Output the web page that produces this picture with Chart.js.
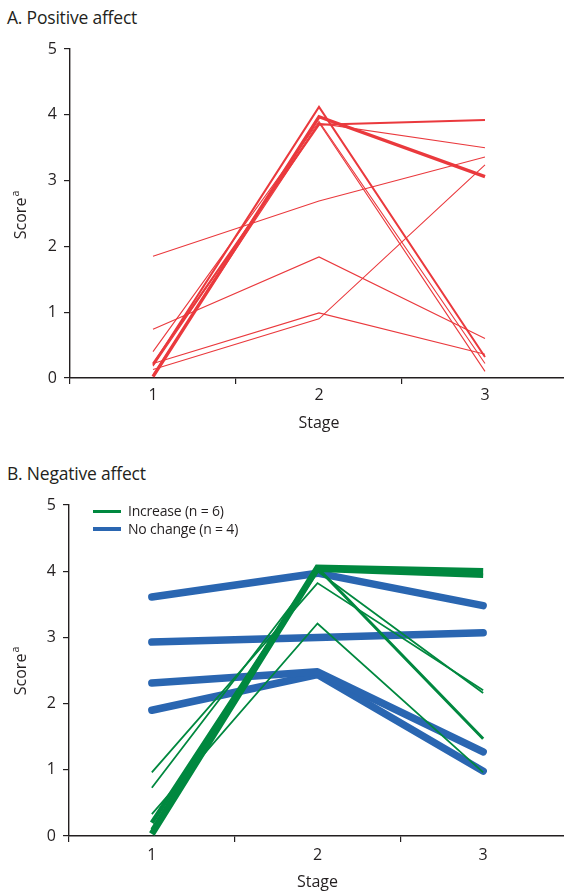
<!DOCTYPE html>
<html lang="en">
<head>
<meta charset="UTF-8">
<title>Positive and negative affect by stage</title>
<script src="https://cdn.jsdelivr.net/npm/chart.js"></script>
<style>
  body { margin: 0; background: #fff; width: 564px; height: 893px; position: relative; overflow: hidden;
         font-family: 'Open Sans', sans-serif; color: #231f20; }
  .panel-title { position: absolute; left: 7px; font-size: 17.5px; line-height: 22px; letter-spacing: -0.2px; }
  canvas { position: absolute; left: 0; }
  #legend { position: absolute; left: 93px; top: 502px; font-size: 14px; line-height: 18px; letter-spacing: -0.2px; }
  #legend div { display: flex; align-items: center; }
  #legend span.swatch { display: inline-block; width: 28px; height: 3px; margin-right: 7px; }
</style>
</head>
<body>
<div class="panel-title" style="top:6px">A. Positive affect</div>
<canvas id="chartA" width="570" height="440" style="top:0"></canvas>

<div class="panel-title" style="top:462px">B. Negative affect</div>
<canvas id="chartB" width="570" height="443" style="top:450px"></canvas>
<div id="legend">
  <div><span class="swatch" style="background:#00883f"></span>Increase (n = 6)</div>
  <div><span class="swatch" style="background:#2a66b1;height:4px"></span>No change (n = 4)</div>
</div>

<script>
// stages on the x axis and the ticks drawn along it
const stages = [1, 2, 3];
const stageLabels = ['1', '2', '3'];
const xTickValues = [0.5, 1, 1.5, 2, 2.5, 3, 3.5];
const scoreTicks = [0, 1, 2, 3, 4, 5];

// A. Positive affect, one array per participant (stage 1, 2, 3)
const posP1 = [1.85, 2.69, 3.36];
const posP2 = [0.74, 1.84, 0.60];
const posP3 = [0.22, 0.99, 0.36];
const posP4 = [0.13, 0.90, 3.24];
const posP5 = [0.02, 3.97, 3.06];
const posP6 = [0.20, 4.12, 0.32];
const posP7 = [0.40, 3.90, 0.22];
const posP8 = [0.18, 3.88, 0.10];
const posP9 = [0.22, 3.85, 3.92];
const posP10 = [0.05, 3.87, 3.50];
const positiveSeries = [posP1, posP2, posP3, posP4, posP5, posP6, posP7, posP8, posP9, posP10];

// B. Negative affect, "Increase" group
const incP1 = [0.03, 4.05, 4.00];
const incP2 = [0.20, 4.02, 3.93];
const incP3 = [0.96, 3.82, 2.20];
const incP4 = [0.73, 4.00, 2.16];
const incP5 = [0.10, 4.05, 1.47];
const incP6 = [0.33, 3.21, 0.96];
const increaseSeries = [incP1, incP2, incP3, incP4, incP5, incP6];

// B. Negative affect, "No change" group
const ncP1 = [3.61, 3.97, 3.48];
const ncP2 = [2.93, 3.00, 3.07];
const ncP3 = [2.31, 2.48, 1.27];
const ncP4 = [1.90, 2.44, 0.98];
const noChangeSeries = [ncP1, ncP2, ncP3, ncP4];

// line weights (style only)
const posWidths = [1.1, 1.1, 1.1, 1.1, 3.4, 2, 1.1, 1.1, 2, 1.1];
const incWidths = [6.5, 4.5, 1.8, 1.8, 3, 1.8];
const ncWidth = 7.5;

const RED = '#ea393d';
const GREEN = '#00883f';
const BLUE = '#2a66b1';
const INK = '#231f20';
const FONT = "'Open Sans', sans-serif";

function toPoints(values) {
  return stages.map((s, i) => ({ x: s, y: values[i] }));
}

// y axis title with a superscript "a"
function scoreTitle(cx, cy) {
  return {
    id: 'scoreTitle',
    afterDraw(chart) {
      const ctx = chart.ctx;
      ctx.save();
      ctx.translate(cx, cy);
      ctx.rotate(-Math.PI / 2);
      ctx.fillStyle = INK;
      ctx.font = '16px ' + FONT;
      const w1 = ctx.measureText('Score').width;
      ctx.font = '10.5px ' + FONT;
      const w2 = ctx.measureText('a').width;
      const start = -(w1 + w2 + 1) / 2;
      ctx.textBaseline = 'alphabetic';
      ctx.font = '16px ' + FONT;
      ctx.fillText('Score', start, 6);
      ctx.font = '10.5px ' + FONT;
      ctx.fillText('a', start + w1 + 1, -1);
      ctx.restore();
    }
  };
}

function makeScales(xHeight, xLabelPad, titlePad) {
  return {
    x: {
      type: 'linear',
      min: 0.5,
      max: 3.5,
      afterBuildTicks(scale) {
        scale.ticks = xTickValues.map(v => ({ value: v }));
      },
      afterFit(scale) { scale.height = xHeight; },
      ticks: {
        autoSkip: false,
        maxRotation: 0,
        padding: xLabelPad,
        color: INK,
        font: { family: FONT, size: 16 },
        callback(value) {
          const i = stages.indexOf(value);
          return i >= 0 ? stageLabels[i] : '';
        }
      },
      grid: {
        drawOnChartArea: false,
        tickLength: 6,
        lineWidth: 1.2,
        tickColor: ctx => (ctx.tick && ctx.tick.value % 1 !== 0) ? INK : 'rgba(0,0,0,0)'
      },
      border: { display: true, color: INK, width: 1.4 },
      title: {
        display: true,
        text: 'Stage',
        color: INK,
        font: { family: FONT, size: 16 },
        padding: { top: 0, bottom: titlePad }
      }
    },
    y: {
      min: 0,
      max: 5,
      afterBuildTicks(scale) {
        scale.ticks = scoreTicks.map(v => ({ value: v }));
      },
      afterFit(scale) { scale.width = 70; },
      ticks: {
        padding: 7,
        color: INK,
        font: { family: FONT, size: 16 }
      },
      grid: {
        drawOnChartArea: false,
        tickLength: 6,
        lineWidth: 1.2,
        tickColor: INK
      },
      border: { display: true, color: INK, width: 1.4 }
    }
  };
}

const baseOptions = {
  responsive: false,
  animation: false,
  devicePixelRatio: 1,
  plugins: { legend: { display: false }, tooltip: { enabled: false } },
  elements: { point: { radius: 0 }, line: { tension: 0 } }
};

// Panel A
new Chart(document.getElementById('chartA').getContext('2d'), {
  type: 'line',
  data: {
    datasets: positiveSeries.map((vals, i) => ({
      data: toPoints(vals),
      borderColor: RED,
      borderWidth: posWidths[i],
      borderJoinStyle: 'miter',
      borderCapStyle: 'butt'
    }))
  },
  options: Object.assign({}, baseOptions, {
    layout: { padding: { top: 49, right: 0, bottom: 0, left: 0 } },
    scales: makeScales(62, 2, 7)
  }),
  plugins: [scoreTitle(20, 215)]
});

// Panel B: green drawn on top of blue (dataset 0 is drawn last)
const datasetsB = increaseSeries.map((vals, i) => ({
  data: toPoints(vals),
  borderColor: GREEN,
  borderWidth: incWidths[i],
  borderJoinStyle: 'miter',
  borderCapStyle: 'butt'
})).concat(noChangeSeries.map(vals => ({
  data: toPoints(vals),
  borderColor: BLUE,
  borderWidth: ncWidth,
  borderJoinStyle: 'round',
  borderCapStyle: 'round'
})));

new Chart(document.getElementById('chartB').getContext('2d'), {
  type: 'line',
  data: { datasets: datasetsB },
  options: Object.assign({}, baseOptions, {
    layout: { padding: { top: 55, right: 0, bottom: 0, left: -1 } },
    scales: makeScales(57, 4, 1)
  }),
  plugins: [scoreTitle(20, 221)]
});
</script>
</body>
</html>
